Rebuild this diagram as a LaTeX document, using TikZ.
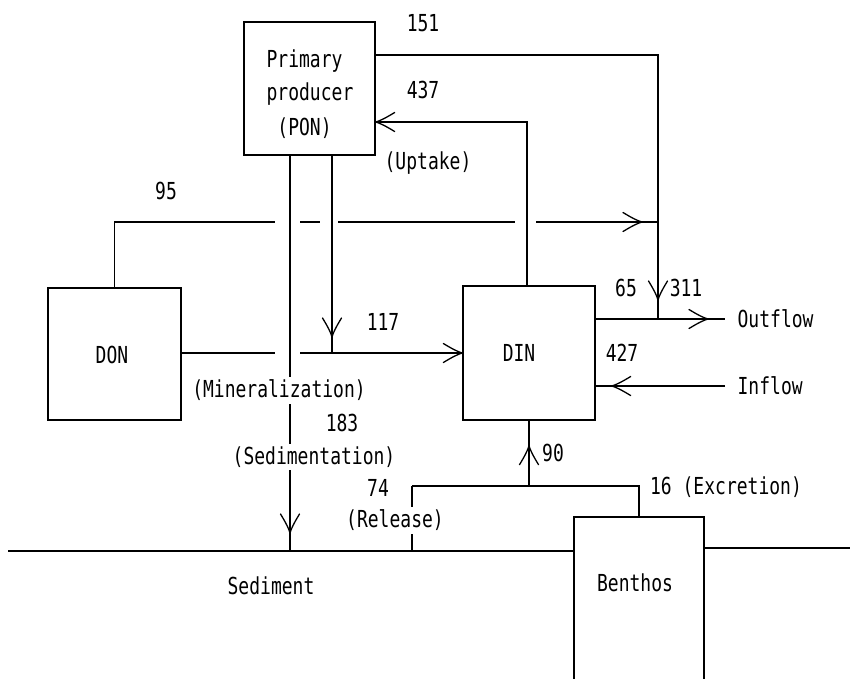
\documentclass[tikz,border=0pt]{standalone}
\usepackage{fontspec}
\newfontfamily\labfont{DejaVu Sans Mono}
\usetikzlibrary{decorations.markings}
\newcommand\T[1]{\scalebox{1}[1.3]{#1}}
\newcommand\myhead{\draw[line width=1.3pt,line cap=round,line join=round,solid] (-19pt,-9.5pt) .. controls (-10pt,-4pt) and (-4pt,-1pt) .. (0pt,0pt) .. controls (-4pt,1pt) and (-10pt,4pt) .. (-19pt,9.5pt);}
\tikzset{
  box/.style={draw, line width=1.3pt, inner sep=0pt},
  lab/.style={font=\labfont\fontsize{18}{20}\selectfont, inner sep=2pt},
  wlab/.style={lab, fill=white, inner sep=3pt},
  arr/.style={postaction={decorate}, decoration={markings, mark=at position #1 with {\myhead}}}
}
\begin{document}
\begin{tikzpicture}[x=1pt,y=-1pt,line width=1.3pt]
\useasboundingbox (0,0) rectangle (850,678);
% boxes
\node[box, minimum width=131pt, minimum height=133pt] (pp) at (309.5,88.5) {};
\node[box, minimum width=133pt, minimum height=132pt] (don) at (114.5,354) {};
\node[box, minimum width=132pt, minimum height=134pt] (din) at (529,353) {};
\node[box, minimum width=130pt, minimum height=172pt] (ben) at (639,603) {};
% coordinates
\coordinate (tr) at (658,55);
\coordinate (jo) at (658,319);
\coordinate (j95) at (658,222);
\coordinate (oend) at (725,319);
\coordinate (iend) at (725,386);
\coordinate (upk) at (527,122);
\coordinate (dl) at (0,353);
\coordinate (sedx) at (290,551);
\coordinate (minx) at (332,353);
\coordinate (rel) at (412,486);
\coordinate (sl) at (8,551);
\coordinate (sr) at (850,548);
% horizontal flows
\draw[arr=-16pt] (don.north) -- (don.north |- j95) -- (j95);
\draw[arr=1] (don.east |- dl) -- (din.west |- dl);
% gaps at crossings
\fill[white] (275,217) rectangle (300,227);
\fill[white] (320,217) rectangle (338,227);
\fill[white] (515,217) rectangle (536,227);
\fill[white] (275,348) rectangle (300,358);
% other flows
\draw[arr=-19pt] (pp.east |- tr) -- (tr) -- (jo);
\draw[arr=-17pt] (din.east |- jo) -- (oend);
\draw[arr=-16pt] (iend) -- (din.east |- iend);
\draw[arr=1] (din.north -| upk) -- (upk) -- (pp.east |- upk);
\draw[arr=-16pt] (pp.south -| minx) -- (minx);
\draw[arr=-18pt] (pp.south -| sedx) -- (sedx);
\draw[arr=-25pt] (din.south |- rel) -- (din.south);
\draw (rel) -- (ben.north |- rel) -- (ben.north);
\draw (rel) -- (rel |- sl);
\draw (sl) -- (sl -| ben.west);
\draw (sr -| ben.east) -- (sr);
% box texts
\node[lab, anchor=base west] (pp1) at (264,67) {\T{Primary}};
\node[lab, anchor=base west] (pp2) at (264,100) {\T{producer}};
\node[lab, anchor=base west] (pp3) at (264,135) {\T{\phantom{(}(PON)}};
\node[lab] (tdon) at (112,355) {\T{DON}};
\node[lab] (tdin) at (519,353) {\T{DIN}};
\node[lab] (tben) at (635,583) {\T{Benthos}};
\node[lab] (tsed) at (271,586) {\T{Sediment}};
% flow labels
\node[lab] (t151) at (423,23) {\T{151}};
\node[lab] (t437) at (423,90) {\T{437}};
\node[lab] (tupt) at (428,163) {\T{(Uptake)}};
\node[lab] (t95) at (166,191) {\T{95}};
\node[lab] (t117) at (383,322) {\T{117}};
\node[lab] (t65) at (626,288) {\T{65}};
\node[lab] (t311) at (686,288) {\T{311}};
\node[lab, anchor=west] (tout) at (735,319) {\T{Outflow}};
\node[lab] (t427) at (622,353) {\T{427}};
\node[lab, anchor=west] (tin) at (735,386) {\T{Inflow}};
\node[wlab] (tmin) at (279,390) {\T{(Mineralization)}};
\node[lab] (t183) at (342,423) {\T{183}};
\node[wlab] (tsedi) at (314,457) {\T{(Sedimentation)}};
\node[lab] (t74) at (378,488) {\T{74}};
\node[wlab] (trel) at (395,520) {\T{(Release)}};
\node[lab] (t90) at (553,453) {\T{90}};
\node[lab] (texc) at (726,487) {\T{16 (Excretion)}};
\end{tikzpicture}
\end{document}
